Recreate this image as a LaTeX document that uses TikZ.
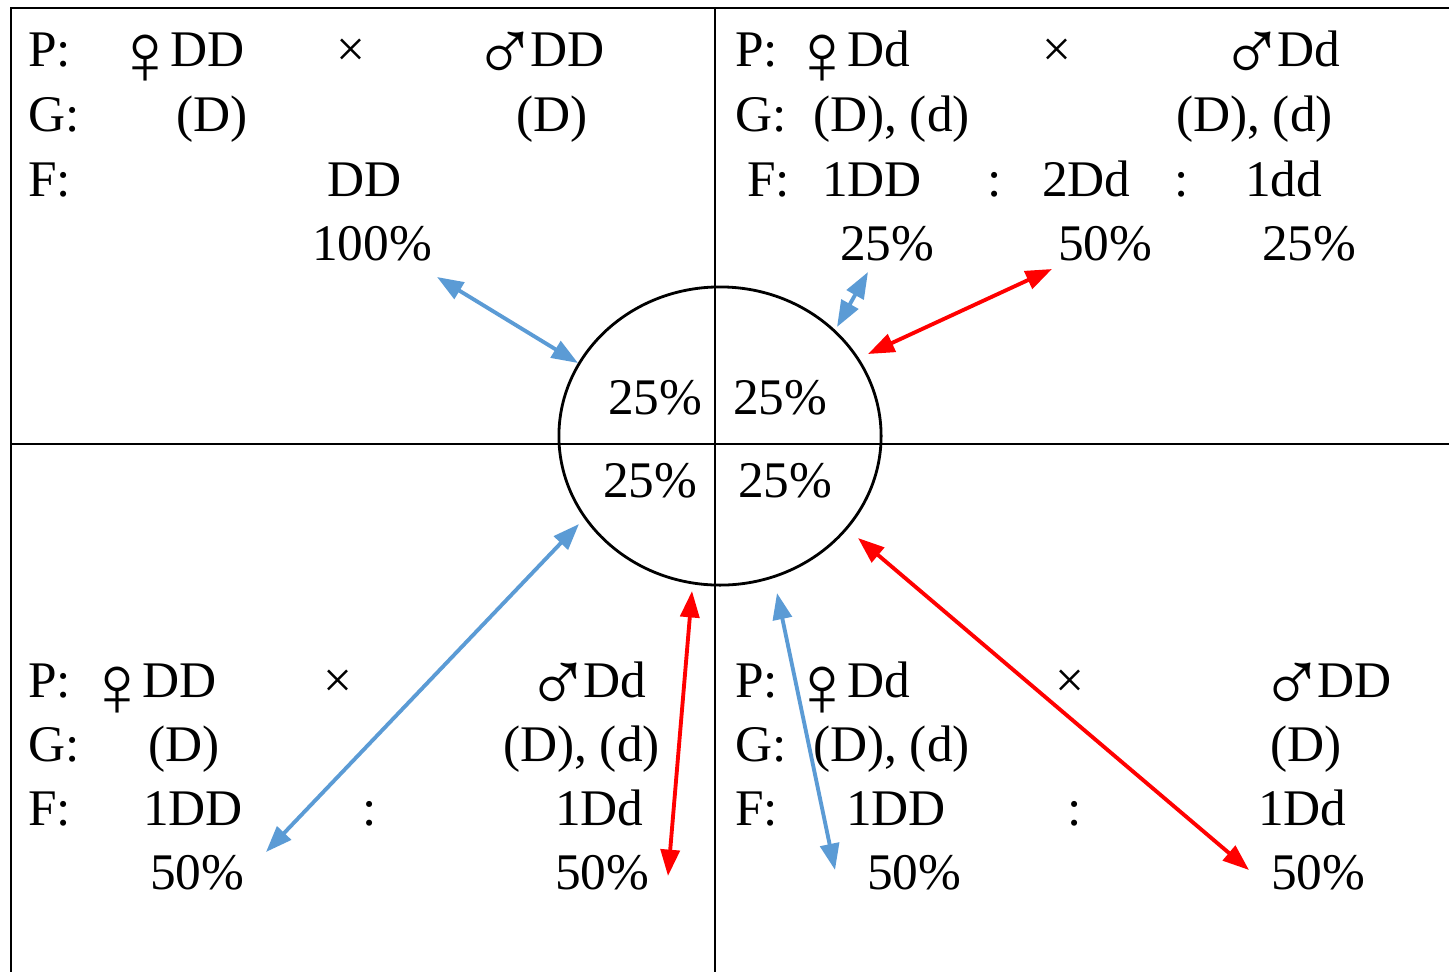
\documentclass[tikz,border=0pt]{standalone}
\usepackage{fontspec}
\setmainfont{Liberation Serif}
\usetikzlibrary{arrows.meta,shapes.geometric}
\definecolor{cblue}{RGB}{91,155,213}
\definecolor{cred}{RGB}{255,0,0}
% bigger sex signs, as in the printed scheme
\newcommand{\fem}{\hspace*{-5.3pt}\raisebox{-5.4pt}{\fontsize{25}{25}\selectfont ♀}\hspace*{-2.3pt}}
\newcommand{\mal}{\hspace*{-4.4pt}\raisebox{-4.4pt}{\fontsize{25}{25}\selectfont ♂}\hspace*{-2.3pt}}

\begin{document}
\begin{tikzpicture}[x=0.01cm,y=-0.01cm,>=Latex,
  font=\fontsize{14.6}{17}\selectfont,
  every node/.style={inner sep=0pt,outer sep=0pt},
  lbl/.style={anchor=base west},
  sym/.style={anchor=base},
  grid/.style={line width=0.8pt},
  barrow/.style={{Triangle[length=7.5pt,width=5.4pt]}-{Triangle[length=7.5pt,width=5.4pt]},cblue,line width=1.1pt},
  rarrow/.style={{Triangle[length=7.5pt,width=5.4pt]}-{Triangle[length=7.5pt,width=5.4pt]},cred,line width=1.1pt}]
\useasboundingbox (0,0) rectangle (1449,972);
% ===================== table lines and ring =====================
\draw[grid] (1449,8) -- (11,8) -- (11,972);
\draw[grid] (715,8) -- (715,972);
\draw[grid] (11,444) -- (1449,444);
\node[draw,ellipse,line width=0.8pt,minimum width=3.22cm,minimum height=2.98cm] (ring) at (720,436) {};
\node[lbl] (rq1) at (608,414) {25\%};
\node[lbl] (rq2) at (733,414) {25\%};
\node[lbl] (rq3) at (603,497) {25\%};
\node[lbl] (rq4) at (738,497) {25\%};
% ===================== upper left: DD x DD =====================
\node[lbl] (ulp) at (28,66) {P:};
\node[lbl] (ulmom) at (131,66) {\fem DD};
\node[sym] (ulx) at (351,66) {×};
\node[lbl] (uldad) at (488,66) {\mal DD};
\node[lbl] (ulg) at (28,131) {G:};
\node[lbl] (ulga) at (176,131) {(D)};
\node[lbl] (ulgb) at (516,131) {(D)};
\node[lbl] (ulf) at (28,196) {F:};
\node[lbl] (ulfa) at (327,196) {DD};
\node[lbl] (ulpa) at (312,260) {100\%};
% ===================== upper right: Dd x Dd =====================
\node[lbl] (urp) at (735,66) {P:};
\node[lbl] (urmom) at (808,66) {\fem Dd};
\node[sym] (urx) at (1057,66) {×};
\node[lbl] (urdad) at (1235,66) {\mal Dd};
\node[lbl] (urg) at (735,131) {G:};
\node[lbl] (urga) at (813,131) {(D), (d)};
\node[lbl] (urgb) at (1176,131) {(D), (d)};
\node[lbl] (urf) at (747,196) {F:};
\node[lbl] (urfa) at (822,196) {1DD};
\node[sym] (urca) at (995,196) {:};
\node[lbl] (urfb) at (1042,196) {2Dd};
\node[sym] (urcb) at (1182,196) {:};
\node[lbl] (urfc) at (1245,196) {1dd};
\node[lbl] (urpa) at (840,260) {25\%};
\node[lbl] (urpb) at (1058,260) {50\%};
\node[lbl] (urpc) at (1262,260) {25\%};
% ===================== lower left: DD x Dd =====================
\node[lbl] (llp) at (28,697) {P:};
\node[lbl] (llmom) at (103,697) {\fem DD};
\node[sym] (llx) at (338,697) {×};
\node[lbl] (lldad) at (541,697) {\mal Dd};
\node[lbl] (llg) at (28,761) {G:};
\node[lbl] (llga) at (148,761) {(D)};
\node[lbl] (llgb) at (503,761) {(D), (d)};
\node[lbl] (llf) at (28,825) {F:};
\node[lbl] (llfa) at (143,825) {1DD};
\node[sym] (llca) at (370,825) {:};
\node[lbl] (llfb) at (555,825) {1Dd};
\node[lbl] (llpa) at (150,889) {50\%};
\node[lbl] (llpb) at (555,889) {50\%};
% ===================== lower right: Dd x DD =====================
\node[lbl] (lrp) at (735,697) {P:};
\node[lbl] (lrmom) at (808,697) {\fem Dd};
\node[sym] (lrx) at (1070,697) {×};
\node[lbl] (lrdad) at (1275,697) {\mal DD};
\node[lbl] (lrg) at (735,761) {G:};
\node[lbl] (lrga) at (813,761) {(D), (d)};
\node[lbl] (lrgb) at (1270,761) {(D)};
\node[lbl] (lrf) at (735,825) {F:};
\node[lbl] (lrfa) at (846,825) {1DD};
\node[sym] (lrca) at (1075,825) {:};
\node[lbl] (lrfb) at (1258,825) {1Dd};
\node[lbl] (lrpa) at (867,889) {50\%};
\node[lbl] (lrpb) at (1271,889) {50\%};
% ===================== arrows: share -> ring =====================
\coordinate (ulA) at (437,277);  \coordinate (ulB) at (578,363);
\coordinate (urA) at (868,272);  \coordinate (urB) at (837,327);
\coordinate (llA) at (266,852);  \coordinate (llB) at (579,524);
\coordinate (lrA) at (835,870);  \coordinate (lrB) at (777,593);
\coordinate (urC) at (1052,269); \coordinate (urD) at (868,354);
\coordinate (llC) at (668,876);  \coordinate (llD) at (692,591);
\coordinate (lrC) at (1249,870); \coordinate (lrD) at (858,538);
\draw[barrow] (ulA) -- (ulB);
\draw[barrow] (urA) -- (urB);
\draw[barrow] (llA) -- (llB);
\draw[barrow] (lrA) -- (lrB);
\draw[rarrow] (urC) -- (urD);
\draw[rarrow] (llC) -- (llD);
\draw[rarrow] (lrC) -- (lrD);
\end{tikzpicture}
\end{document}
